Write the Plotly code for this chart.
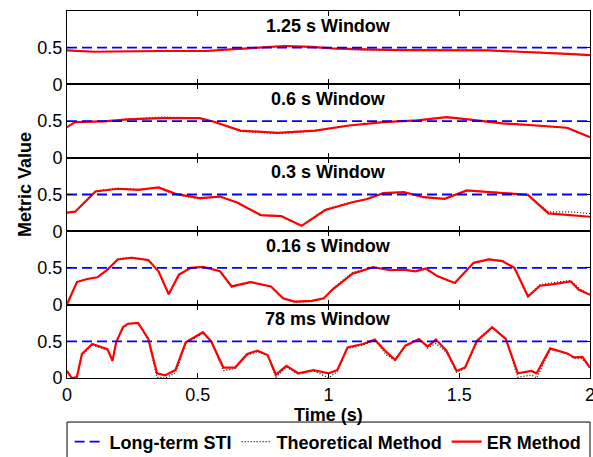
import plotly.graph_objects as go
from plotly.subplots import make_subplots

FONT = "Liberation Sans, Arial, sans-serif"

window_titles = ["1.25 s Window", "0.6 s Window", "0.3 s Window", "0.16 s Window", "78 ms Window"]
long_term_sti = 0.5

t_125 = [0, 0.103, 0.350, 0.533, 0.624, 0.741, 0.832, 0.936, 1.014, 1.145, 1.275, 1.613, 1.796, 1.913, 2.0]
er_125 = [0.463, 0.445, 0.455, 0.455, 0.477, 0.50, 0.523, 0.51, 0.49, 0.477, 0.468, 0.463, 0.44, 0.417, 0.40]
th_125 = [0.463, 0.448, 0.452, 0.452, 0.475, 0.50, 0.52, 0.51, 0.485, 0.465, 0.462, 0.463, 0.44, 0.417, 0.40]

t_060 = [0, 0.031, 0.142, 0.233, 0.363, 0.506, 0.559, 0.663, 0.806, 0.949, 1.079, 1.210, 1.340, 1.451, 1.535, 1.665, 1.796, 1.913, 2.0]
er_060 = [0.417, 0.486, 0.495, 0.523, 0.541, 0.541, 0.495, 0.37, 0.34, 0.37, 0.44, 0.486, 0.51, 0.555, 0.523, 0.47, 0.44, 0.41, 0.28]
th_060 = [0.417, 0.49, 0.50, 0.53, 0.555, 0.545, 0.49, 0.36, 0.33, 0.365, 0.44, 0.486, 0.51, 0.55, 0.52, 0.465, 0.435, 0.405, 0.28]

t_030 = [0, 0.031, 0.109, 0.194, 0.272, 0.350, 0.415, 0.507, 0.585, 0.650, 0.741, 0.819, 0.897, 0.988, 1.092, 1.145, 1.210, 1.288, 1.366, 1.444, 1.529, 1.613, 1.691, 1.763, 1.841, 1.926, 2.0]
er_030 = [0.252, 0.266, 0.541, 0.578, 0.564, 0.596, 0.509, 0.45, 0.472, 0.39, 0.22, 0.206, 0.073, 0.289, 0.394, 0.436, 0.518, 0.532, 0.463, 0.44, 0.555, 0.532, 0.518, 0.495, 0.243, 0.22, 0.197]
th_030 = [0.252, 0.266, 0.55, 0.585, 0.57, 0.59, 0.50, 0.44, 0.47, 0.40, 0.215, 0.20, 0.075, 0.30, 0.40, 0.44, 0.52, 0.53, 0.455, 0.44, 0.55, 0.535, 0.52, 0.49, 0.265, 0.262, 0.24]

t_016 = [0, 0.038, 0.077, 0.116, 0.155, 0.194, 0.246, 0.311, 0.350, 0.389, 0.428, 0.474, 0.520, 0.585, 0.630, 0.702, 0.780, 0.826, 0.871, 0.936, 0.982, 1.014, 1.092, 1.171, 1.236, 1.288, 1.333, 1.372, 1.418, 1.483, 1.555, 1.613, 1.665, 1.711, 1.763, 1.809, 1.861, 1.926, 1.958, 2.0]
er_016 = [0.005, 0.307, 0.349, 0.372, 0.477, 0.615, 0.638, 0.606, 0.454, 0.142, 0.408, 0.50, 0.514, 0.454, 0.248, 0.307, 0.248, 0.087, 0.041, 0.05, 0.087, 0.202, 0.422, 0.509, 0.468, 0.477, 0.454, 0.491, 0.385, 0.294, 0.569, 0.615, 0.592, 0.50, 0.11, 0.257, 0.28, 0.317, 0.202, 0.133]
th_016 = [0.005, 0.31, 0.35, 0.375, 0.48, 0.625, 0.645, 0.61, 0.45, 0.15, 0.40, 0.50, 0.52, 0.46, 0.24, 0.31, 0.245, 0.08, 0.03, 0.04, 0.08, 0.21, 0.44, 0.51, 0.465, 0.47, 0.45, 0.48, 0.38, 0.29, 0.565, 0.62, 0.60, 0.49, 0.12, 0.27, 0.30, 0.33, 0.22, 0.14]

t_078 = [0, 0.018, 0.038, 0.057, 0.096, 0.142, 0.155, 0.174, 0.188, 0.214, 0.233, 0.272, 0.311, 0.344, 0.376, 0.415, 0.454, 0.520, 0.552, 0.598, 0.643, 0.689, 0.728, 0.767, 0.799, 0.839, 0.884, 0.943, 1.001, 1.034, 1.073, 1.132, 1.177, 1.223, 1.255, 1.294, 1.346, 1.379, 1.411, 1.451, 1.490, 1.522, 1.568, 1.626, 1.678, 1.724, 1.776, 1.796, 1.848, 1.913, 1.939, 1.971, 2.0]
er_078 = [0.096, 0.0, 0.014, 0.326, 0.463, 0.404, 0.394, 0.234, 0.486, 0.693, 0.739, 0.752, 0.532, 0.064, 0.037, 0.110, 0.486, 0.624, 0.495, 0.142, 0.142, 0.326, 0.372, 0.312, 0.046, 0.165, 0.064, 0.106, 0.064, 0.110, 0.417, 0.463, 0.523, 0.349, 0.248, 0.440, 0.532, 0.427, 0.523, 0.372, 0.096, 0.142, 0.509, 0.693, 0.532, 0.064, 0.096, 0.064, 0.404, 0.335, 0.280, 0.289, 0.142]
th_078 = [0.096, 0.0, 0.01, 0.31, 0.45, 0.40, 0.38, 0.23, 0.47, 0.68, 0.73, 0.75, 0.52, 0.01, 0.0, 0.07, 0.47, 0.61, 0.50, 0.10, 0.13, 0.31, 0.36, 0.31, 0.01, 0.15, 0.05, 0.10, 0.0, 0.09, 0.40, 0.45, 0.51, 0.31, 0.24, 0.43, 0.52, 0.41, 0.47, 0.35, 0.08, 0.13, 0.49, 0.68, 0.53, 0.01, 0.04, 0.0, 0.39, 0.33, 0.27, 0.26, 0.14]

x_ticks = [0, 0.5, 1, 1.5, 2]
x_ticktext = ["0", "0.5", "1", "1.5", "2"]

times = [t_125, t_060, t_030, t_016, t_078]
er_values = [er_125, er_060, er_030, er_016, er_078]
th_values = [th_125, th_060, th_030, th_016, th_078]

fig = make_subplots(rows=5, cols=1, shared_xaxes=True, vertical_spacing=0)

for i in range(5):
    r = i + 1
    fig.add_trace(go.Scatter(x=times[i], y=th_values[i], mode="lines", name="Theoretical Method",
                             line=dict(color="black", width=1.2, dash="1px,2px"),
                             showlegend=(i == 0), legendrank=2, hoverinfo="skip"), row=r, col=1)
    fig.add_trace(go.Scatter(x=times[i], y=er_values[i], mode="lines", name="ER Method",
                             line=dict(color="#ff0000", width=2.2),
                             showlegend=(i == 0), legendrank=3, hoverinfo="skip"), row=r, col=1)
    fig.add_trace(go.Scatter(x=[0, 2], y=[long_term_sti, long_term_sti], mode="lines", name="Long-term STI",
                             line=dict(color="#0000ff", width=1.8, dash="10px,5px"),
                             showlegend=(i == 0), legendrank=1, hoverinfo="skip"), row=r, col=1)
    fig.add_annotation(x=1, y=0.80, xref=f"x{'' if r == 1 else r}", yref=f"y{'' if r == 1 else r}",
                       text=f"<b>{window_titles[i]}</b>", showarrow=False,
                       font=dict(family=FONT, size=18, color="black"))
    fig.update_xaxes(row=r, col=1, range=[0, 2.0001], tickvals=x_ticks,
                     ticktext=x_ticktext, showticklabels=(r == 5),
                     ticks="inside", ticklen=5, tickcolor="black", showline=True, linecolor="black",
                     linewidth=1, mirror="ticks", showgrid=False, zeroline=False,
                     ticklabeloverflow="allow", automargin=False)
    fig.update_yaxes(row=r, col=1, range=[0, 1], tickvals=[0, 0.5], ticktext=["0", "0.5"],
                     ticks="inside", ticklen=5, tickcolor="black", showline=True, linecolor="black",
                     linewidth=1, mirror="ticks", showgrid=False, zeroline=False, automargin=False)

fig.add_annotation(x=0.5, y=-0.1, xref="paper", yref="paper", text="<b>Time (s)</b>",
                   showarrow=False, yanchor="middle", font=dict(family=FONT, size=18, color="black"))
fig.add_annotation(x=-0.08, y=0.526, xref="paper", yref="paper", text="<b>Metric Value</b>",
                   textangle=-90, showarrow=False, xanchor="center", yanchor="middle",
                   font=dict(family=FONT, size=18, color="black"))

fig.add_shape(type="rect", xref="paper", yref="paper", x0=0, x1=1, y0=-0.12, y1=-0.32,
              line=dict(color="black", width=1), fillcolor="rgba(0,0,0,0)")

fig.update_layout(
    template="none",
    width=593, height=457,
    margin=dict(l=67, r=3, t=11, b=79, autoexpand=False),
    paper_bgcolor="white", plot_bgcolor="white",
    font=dict(family=FONT, size=18, color="black"),
    legend=dict(orientation="h", x=0.005, y=-0.124, xanchor="left", yanchor="top",
                font=dict(family=FONT, size=18, color="black", weight="bold"),
                bgcolor="rgba(0,0,0,0)", borderwidth=0, tracegroupgap=0),
)

fig.write_html("out.html")
